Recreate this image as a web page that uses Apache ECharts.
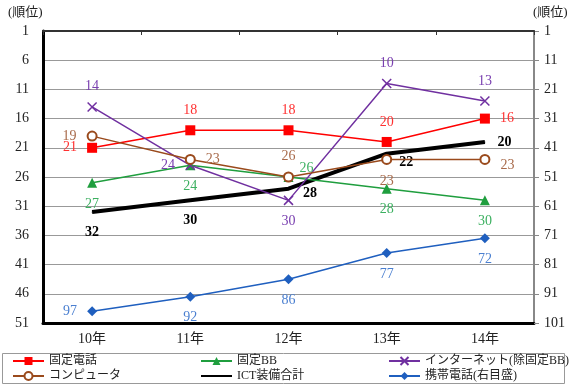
<!DOCTYPE html>
<html><head><meta charset="utf-8">
<script src="https://cdn.jsdelivr.net/npm/echarts@6/dist/echarts.min.js"></script>
<style>html,body{margin:0;padding:0;background:#fff}#c{width:580px;height:392px}</style>
</head><body><div id="c"></div>
<script>
var categories = ['10年','11年','12年','13年','14年'];
var leftTicks = [1,6,11,16,21,26,31,36,41,46,51];
var rightTicks = [1,11,21,31,41,51,61,71,81,91,101];
var fixedPhone = [21,18,18,20,16];
var fixedBB = [27,24,26,28,30];
var internet = [14,24,30,10,13];
var computer = [19,23,26,23,23];
var ictTotal = [32,30,28,22,20];
var mobile = [97,92,86,77,72];

// label placement (style, kept apart from values)
var fixedPhonePos = ['left','top','top','top','right'];
var fixedBBPos = ['bottom','bottom','right','bottom','bottom'];
var internetPos = ['top','left','bottom','top','top'];
var computerPos = ['left','right','top','bottom','right'];
var ictPos = ['bottom','bottom','right','right','right'];
var mobilePos = ['left','bottom','bottom','bottom','bottom'];
var offsets = {
  fixedBB: {2:[-4,-9]},
  computer: {4:[0,6]},
  ict: {2:[2,5],3:[0,9]}
};

var FONT = "'Liberation Serif','Noto Sans CJK JP',serif";

function build(values, pos, color, key, bold){
  return values.map(function(v,i){
    var p = pos[i];
    var d = (p==='top')?8:(p==='bottom')?9:10;
    if (key==='ict') d = (p==='bottom')?13:12;
    var lab = {show:true, position:p, distance:d, color:color, fontFamily:FONT, fontSize:14, fontWeight: bold?'bold':'normal'};
    if (offsets[key] && offsets[key][i]) lab.offset = offsets[key][i];
    return {value:v, label:lab};
  });
}

function legendAt(left, names){
  return {orient:'vertical', left:left, top:354, padding:0, itemWidth:31, itemHeight:10, itemGap:1,
    textStyle:{fontSize:12, lineHeight:14, color:'#222', fontFamily:FONT}, data:names};
}

var chart = echarts.init(document.getElementById('c'), null, {renderer:'canvas'});
var option = {
  animation:false,
  backgroundColor:'#fff',
  textStyle:{fontFamily:FONT},
  grid:{left:43, right:46, top:31, bottom:69, containLabel:false},
  graphic:[
    {type:'text', left:8, top:6, style:{text:'(順位)', font:"13px "+FONT, fill:'#222'}},
    {type:'text', left:533, top:6, style:{text:'(順位)', font:"13px "+FONT, fill:'#222'}},
    {type:'rect', shape:{x:2.5, y:353.5, width:562, height:30}, style:{fill:'none', stroke:'#999', lineWidth:1}}
  ],
  xAxis:[
    {type:'category', data:categories, position:'bottom', boundaryGap:true,
     axisLine:{lineStyle:{color:'#000', width:3}}, axisTick:{show:false},
     axisLabel:{color:'#222', fontSize:14, margin:9, fontFamily:FONT}},
    {type:'category', data:categories, position:'top', boundaryGap:true,
     axisLine:{lineStyle:{color:'#333', width:2}}, axisTick:{show:true, inside:true, length:4, lineStyle:{color:'#333'}},
     axisLabel:{show:false}}
  ],
  yAxis:[
    {type:'value', inverse:true, min:leftTicks[0], max:leftTicks[leftTicks.length-1], interval:5, position:'left',
     axisLine:{show:true, lineStyle:{color:'#000', width:3}}, axisTick:{show:false},
     axisLabel:{color:'#222', fontSize:14, margin:14, fontFamily:FONT},
     splitLine:{show:true, lineStyle:{color:'#999', width:1.2}}},
    {type:'value', inverse:true, min:rightTicks[0], max:rightTicks[rightTicks.length-1], interval:10, position:'right',
     axisLine:{show:true, lineStyle:{color:'#888', width:2}}, axisTick:{show:true, length:5, lineStyle:{color:'#888'}},
     axisLabel:{color:'#222', fontSize:14, margin:10, fontFamily:FONT},
     splitLine:{show:false}}
  ],
  legend:[
    legendAt(12, ['固定電話','コンピュータ']),
    legendAt(200, ['固定BB', {name:'ICT装備合計', itemStyle:{opacity:0}}]),
    legendAt(388, ['インターネット(除固定BB)','携帯電話(右目盛)'])
  ],
  series:[
    {name:'ICT装備合計', type:'line', z:1, yAxisIndex:0, data:build(ictTotal, ictPos, '#000', 'ict', true),
     symbol:'circle', symbolSize:1, itemStyle:{color:'#000'}, lineStyle:{color:'#000', width:4}},
    {name:'固定電話', type:'line', z:3, yAxisIndex:0, data:build(fixedPhone, fixedPhonePos, '#ff3030', 'fixedPhone'),
     symbol:'rect', symbolSize:10, itemStyle:{color:'#ff0000'}, lineStyle:{color:'#ff0000', width:1.5}},
    {name:'固定BB', type:'line', z:3, yAxisIndex:0, data:build(fixedBB, fixedBBPos, '#3cb060', 'fixedBB'),
     symbol:'triangle', symbolSize:10, itemStyle:{color:'#1f9e3e'}, lineStyle:{color:'#1f9e3e', width:1.5}},
    {name:'インターネット(除固定BB)', type:'line', z:3, yAxisIndex:0, data:build(internet, internetPos, '#7a40b0', 'internet'),
     symbol:'path://M0,0L10,10M10,0L0,10', symbolSize:9, itemStyle:{color:'#7030a0', borderColor:'#7030a0', borderWidth:1.5}, lineStyle:{color:'#7030a0', width:1.5}},
    {name:'コンピュータ', type:'line', z:3, yAxisIndex:0, data:build(computer, computerPos, '#a86a4a', 'computer'),
     symbol:'emptyCircle', symbolSize:9, itemStyle:{color:'#9a4a1c', borderWidth:1.5}, lineStyle:{color:'#9a4a1c', width:1.5}},
    {name:'携帯電話(右目盛)', type:'line', z:3, yAxisIndex:1, data:build(mobile, mobilePos, '#4a7fd0', 'mobile'),
     symbol:'diamond', symbolSize:10, itemStyle:{color:'#1f5fbf'}, lineStyle:{color:'#1f5fbf', width:1.5}}
  ]
};
chart.setOption(option);
</script></body></html>
